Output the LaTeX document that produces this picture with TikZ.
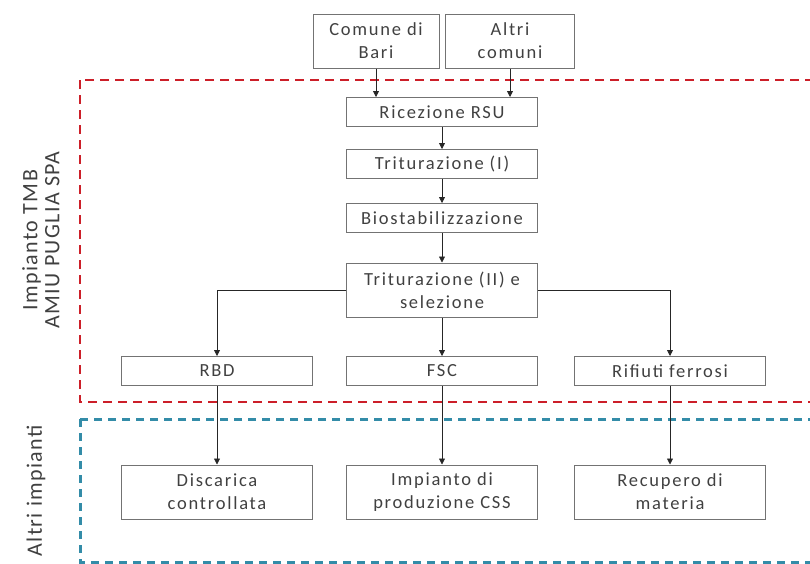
\documentclass[tikz,border=0pt]{standalone}
\usepackage{fontspec}
\setmainfont{Carlito}
\newfontfamily\boxfont[LetterSpace=9.5]{Carlito}
\newfontfamily\sidefont[LetterSpace=6]{Carlito}
\usepackage{tikz}
\usetikzlibrary{arrows.meta,calc}
\definecolor{tmbred}{rgb}{0.80,0.12,0.16}
\definecolor{altblue}{rgb}{0.20,0.55,0.66}
\definecolor{boxgray}{gray}{0.45}
\definecolor{txtgray}{gray}{0.25}

\begin{document}
\begin{tikzpicture}[x=1pt,y=-1pt,
  box/.style={draw=boxgray,line width=1pt,text=txtgray,align=center,
    font=\boxfont\fontsize{18.5}{23}\selectfont,inner sep=0pt,
    minimum width=191pt,minimum height=29pt},
  tallbox/.style={box,minimum height=54pt},
  arr/.style={draw=black!85,line width=0.8pt,-{Triangle[length=6pt,width=6pt]}},
  reddash/.style={draw=tmbred,line width=2.5pt,dash pattern=on 9pt off 6pt},
  bluedash/.style={draw=altblue,line width=3pt,dash pattern=on 8pt off 6pt},
  side/.style={rotate=90,align=center,text=txtgray,font=\sidefont\fontsize{22}{22}\selectfont}]
\useasboundingbox (0,0) rectangle (810,563);
% zone
\draw[reddash] (80,80) rectangle (830,402);
\draw[bluedash] (80,419) rectangle (830,562);
\node[side] (tmb) at (41,240) {Impianto TMB\\AMIU PUGLIA SPA};
\node[side] (altimp) at (36,491) {Altri impianti};
% boxes
\node[tallbox,minimum width=126pt] (bari) at (376,41) {Comune di\\Bari};
\node[tallbox,minimum width=129pt] (altri) at (510,41) {Altri\\comuni};
\node[box] (ricez) at (442,112) {Ricezione RSU};
\node[box] (trit1) at (442,164) {Triturazione (I)};
\node[box] (bios) at (442,218) {Biostabilizzazione};
\node[tallbox] (trit2) at (442,290) {Triturazione (II) e\\selezione};
\node[box] (rbd) at (217,371) {RBD};
\node[box] (fsc) at (442,371) {FSC};
\node[box] (ferro) at (670,371) {Rifiuti ferrosi};
\node[tallbox] (disc) at (217,492) {Discarica\\controllata};
\node[tallbox] (css) at (442,492) {Impianto di\\produzione CSS};
\node[tallbox] (recup) at (670,492) {Recupero di\\materia};
% flussi
\draw[arr] (bari) -- (bari |- ricez.north);
\draw[arr] (altri) -- (altri |- ricez.north);
\draw[arr] (ricez) -- (trit1);
\draw[arr] (trit1) -- (bios);
\draw[arr] (bios) -- (trit2);
\draw[arr] (trit2.west) -| (rbd.north);
\draw[arr] (trit2) -- (fsc);
\draw[arr] (trit2.east) -| (ferro.north);
\draw[arr] (rbd) -- (disc);
\draw[arr] (fsc) -- (css);
\draw[arr] (ferro) -- (recup);
\end{tikzpicture}
\end{document}
